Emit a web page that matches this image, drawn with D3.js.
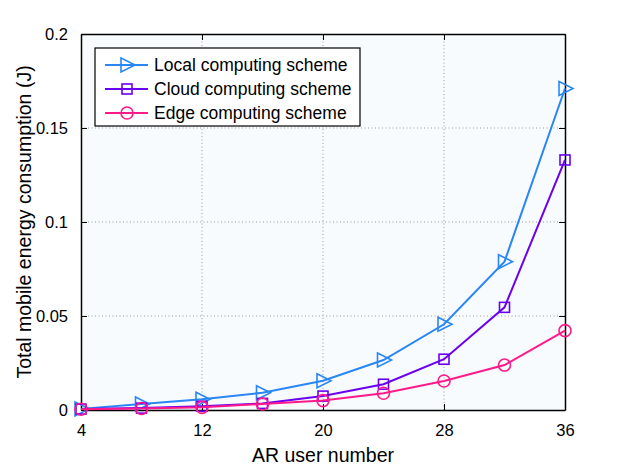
<!DOCTYPE html>
<html>
<head>
<meta charset="utf-8">
<script src="https://cdn.jsdelivr.net/npm/d3@7"></script>
<style>
  body { margin: 0; background: #fff; }
  text { font-family: "Liberation Sans", Arial, sans-serif; fill: #000; }
</style>
</head>
<body>
<div id="chart"></div>
<script>
// data
const users = [4, 8, 12, 16, 20, 24, 28, 32, 36];
const localScheme = [0.0006, 0.0032, 0.0057, 0.0092, 0.0156, 0.0266, 0.0456, 0.0789, 0.171];
const cloudScheme = [0.0005, 0.0010, 0.0020, 0.0035, 0.0074, 0.0137, 0.0270, 0.0546, 0.133];
const edgeScheme = [0.0004, 0.0008, 0.0014, 0.0032, 0.0050, 0.0089, 0.0154, 0.0239, 0.0422];
const seriesNames = ["Local computing scheme", "Cloud computing scheme", "Edge computing scheme"];
const xTicks = [4, 12, 20, 28, 36];
const yTicks = [0, 0.05, 0.1, 0.15, 0.2];

const width = 623, height = 467;
const margin = { top: 34, right: 58, bottom: 57, left: 81 };
const colors = ["#2a86f5", "#6a00f0", "#ff1a8c"];
const markers = ["tri", "square", "circle"];

const svg = d3.select("#chart").append("svg")
    .attr("width", width)
    .attr("height", height);

const x = d3.scaleLinear().domain([4, 36]).range([margin.left, width - margin.right]);
const y = d3.scaleLinear().domain([0, 0.2]).range([height - margin.bottom, margin.top]);

// plot background
svg.append("rect")
    .attr("x", x(4)).attr("y", y(0.2))
    .attr("width", x(36) - x(4)).attr("height", y(0) - y(0.2))
    .attr("fill", "#f7fbfd");

// grid
const grid = svg.append("g").attr("stroke", "#9a9a9a").attr("stroke-width", 1).attr("stroke-dasharray", "1,2.5");
grid.selectAll(".gx").data(xTicks.slice(1, -1)).enter().append("line")
    .attr("x1", d => x(d)).attr("x2", d => x(d))
    .attr("y1", y(0)).attr("y2", y(0.2));
grid.selectAll(".gy").data(yTicks.slice(1, -1)).enter().append("line")
    .attr("y1", d => y(d)).attr("y2", d => y(d))
    .attr("x1", x(4)).attr("x2", x(36));

// axes (ticks inward, box on)
const fmt = d => d === 0 ? "0" : String(d);
const xAxis = svg.append("g").attr("transform", `translate(0,${y(0)})`)
    .call(d3.axisBottom(x).tickValues(xTicks).tickSizeInner(-6).tickSizeOuter(0).tickPadding(14));
const yAxis = svg.append("g").attr("transform", `translate(${x(4)},0)`)
    .call(d3.axisLeft(y).tickValues(yTicks).tickFormat(fmt).tickSizeInner(-6).tickSizeOuter(0).tickPadding(13));
const xTop = svg.append("g").attr("transform", `translate(0,${y(0.2)})`)
    .call(d3.axisTop(x).tickValues(xTicks).tickSizeInner(-6).tickSizeOuter(0).tickFormat(""));
const yRight = svg.append("g").attr("transform", `translate(${x(36)},0)`)
    .call(d3.axisRight(y).tickValues(yTicks).tickSizeInner(-6).tickSizeOuter(0).tickFormat(""));

[xAxis, yAxis, xTop, yRight].forEach(g => {
    g.select(".domain").attr("stroke", "#000").attr("stroke-width", 1.5);
    g.selectAll(".tick line").attr("stroke", "#000").attr("stroke-width", 1);
    g.selectAll("text").style("font-size", "16.5px").attr("fill", "#000");
});

// axis labels
svg.append("text")
    .attr("x", (x(4) + x(36)) / 2).attr("y", 462)
    .attr("text-anchor", "middle")
    .style("font-size", "19.5px")
    .text("AR user number");
svg.append("text")
    .attr("transform", `translate(31,${(y(0) + y(0.2)) / 2}) rotate(-90)`)
    .attr("text-anchor", "middle")
    .style("font-size", "19.5px")
    .text("Total mobile energy consumption (J)");

// marker drawing
function drawMarker(g, type, cx, cy, color) {
    if (type === "tri") {
        g.append("path")
            .attr("d", `M${cx - 6},${cy - 7}L${cx + 8},${cy}L${cx - 6},${cy + 7}Z`)
            .attr("fill", "none").attr("stroke", color).attr("stroke-width", 1.6);
    } else if (type === "square") {
        g.append("rect")
            .attr("x", cx - 5).attr("y", cy - 5).attr("width", 10).attr("height", 10)
            .attr("fill", "none").attr("stroke", color).attr("stroke-width", 1.6);
    } else {
        g.append("circle")
            .attr("cx", cx).attr("cy", cy).attr("r", 6)
            .attr("fill", "none").attr("stroke", color).attr("stroke-width", 1.6);
    }
}

const allSeries = [localScheme, cloudScheme, edgeScheme];
const line = d3.line().x((d, i) => x(users[i])).y(d => y(d));

allSeries.forEach((vals, k) => {
    const g = svg.append("g");
    g.append("path")
        .datum(vals)
        .attr("d", line)
        .attr("fill", "none")
        .attr("stroke", colors[k])
        .attr("stroke-width", 2);
    vals.forEach((v, i) => drawMarker(g, markers[k], x(users[i]), y(v), colors[k]));
});

// legend
const legend = svg.append("g");
legend.append("rect")
    .attr("x", 95).attr("y", 48).attr("width", 265).attr("height", 78)
    .attr("fill", "#fff").attr("stroke", "#000").attr("stroke-width", 1.2);
seriesNames.forEach((name, k) => {
    const ly = 65 + k * 24;
    legend.append("line")
        .attr("x1", 105).attr("x2", 148).attr("y1", ly).attr("y2", ly)
        .attr("stroke", colors[k]).attr("stroke-width", 2);
    drawMarker(legend, markers[k], 127, ly, colors[k]);
    legend.append("text")
        .attr("x", 154).attr("y", ly + 6)
        .style("font-size", "17.5px")
        .text(name);
});
</script>
</body>
</html>
